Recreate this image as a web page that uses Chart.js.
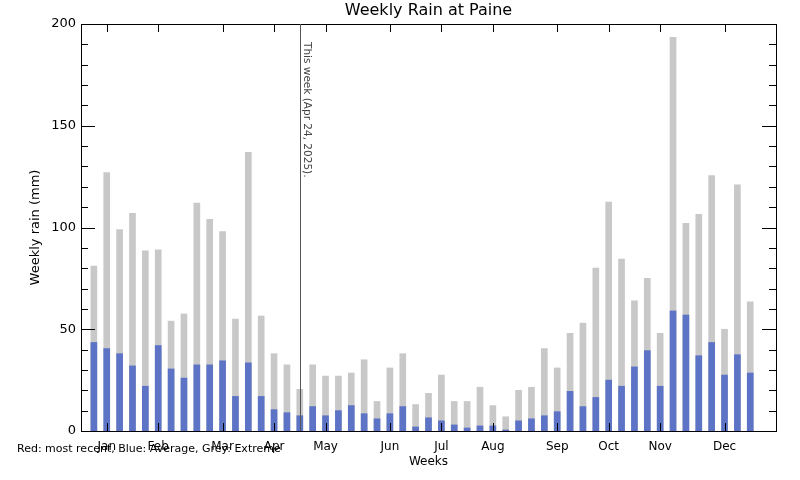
<!DOCTYPE html>
<html>
<head>
<meta charset="utf-8">
<script src="https://cdn.jsdelivr.net/npm/chart.js@4/dist/chart.umd.min.js"></script>
<style>
  html, body { margin: 0; padding: 0; background: #fff; }
  canvas { display: block; }
</style>
</head>
<body>
<canvas id="rain" width="800" height="480"></canvas>
<script>
// week numbers 1..52
const weeks = [
  1, 2, 3, 4, 5, 6, 7, 8, 9, 10, 11, 12, 13,
  14, 15, 16, 17, 18, 19, 20, 21, 22, 23, 24, 25, 26,
  27, 28, 29, 30, 31, 32, 33, 34, 35, 36, 37, 38, 39,
  40, 41, 42, 43, 44, 45, 46, 47, 48, 49, 50, 51, 52,
];

// grey bars: extreme weekly rain (mm)
const extreme = [
  81, 127, 99, 107, 88.5, 89, 54, 57.5, 112, 104, 98, 55, 137,
  56.5, 38, 32.5, 20.5, 32.5, 27, 27, 28.5, 35, 14.5, 31, 38, 13,
  18.5, 27.5, 14.5, 14.5, 21.5, 12.5, 7, 20, 21.5, 40.5, 31, 48, 53,
  80, 112.5, 84.5, 64, 75, 48, 193.5, 102, 106.5, 125.5, 50, 121, 63.5,
];

// blue bars: average weekly rain (mm)
const average = [
  43.5, 40.5, 38, 32, 22, 42, 30.5, 26, 32.5, 32.5, 34.5, 17, 33.5,
  17, 10.5, 9, 7.5, 12, 7.5, 10, 12.5, 8.5, 6, 8.5, 12, 2,
  6.5, 5, 3, 1.5, 2.5, 2.5, 0.5, 5, 6, 7.5, 9.5, 19.5, 12,
  16.5, 25, 22, 31.5, 39.5, 22, 59, 57, 37, 43.5, 27.5, 37.5, 28.5,
];

const monthWeeks = [2, 6, 11, 15, 19, 24, 28, 32, 37, 41, 45, 50];
const monthNames = ["Jan", "Feb", "Mar", "Apr", "May", "Jun", "Jul", "Aug", "Sep", "Oct", "Nov", "Dec"];
const thisWeek = 17;
const thisWeekLabel = "This week (Apr 24, 2025).";

const font = "'DejaVu Sans', sans-serif";

function seg(ctx, x1, y1, x2, y2) {
  ctx.beginPath();
  ctx.moveTo(x1, y1);
  ctx.lineTo(x2, y2);
  ctx.stroke();
}

const framePlugin = {
  id: "frame",
  afterDatasetsDraw(chart) {
    const { ctx, chartArea: a, scales } = chart;
    const x = scales.x, y = scales.y;
    ctx.save();
    ctx.strokeStyle = "#000";
    ctx.lineWidth = 1;
    ctx.strokeRect(Math.round(a.left) + 0.5, Math.round(a.top) + 0.5,
      Math.round(a.right - a.left), Math.round(a.bottom - a.top));

    // y ticks, inward on both sides
    for (let v = 0; v <= 200; v += 10) {
      const py = Math.round(y.getPixelForValue(v)) + 0.5;
      const len = v % 50 === 0 ? 14 : 7;
      seg(ctx, a.left, py, a.left + len, py);
      seg(ctx, a.right - len, py, a.right, py);
    }
    // month ticks top and bottom
    monthWeeks.forEach((w) => {
      const px = Math.round(x.getPixelForValue(w)) + 0.5;
      seg(ctx, px, a.top, px, a.top + 8);
      seg(ctx, px, a.bottom, px, a.bottom - 8);
    });

    // current week marker
    const lx = Math.round(x.getPixelForValue(thisWeek)) + 0.5;
    ctx.strokeStyle = "#555";
    seg(ctx, lx, a.top, lx, a.bottom);

    ctx.fillStyle = "#444";
    ctx.font = "10.5px " + font;
    ctx.translate(lx + 6, a.top + 18);
    ctx.rotate(Math.PI / 2);
    ctx.textAlign = "left";
    ctx.textBaseline = "middle";
    ctx.fillText(thisWeekLabel, 0, 0);
    ctx.restore();
  },
  afterDraw(chart) {
    const { ctx, chartArea: a } = chart;
    const cx = (a.left + a.right) / 2;
    ctx.save();
    ctx.fillStyle = "#000";
    ctx.textBaseline = "middle";

    ctx.font = "16px " + font;
    ctx.textAlign = "center";
    ctx.fillText("Weekly Rain at Paine", cx, 11);

    ctx.font = "12px " + font;
    ctx.fillText("Weeks", cx, 462);

    ctx.font = "11px " + font;
    ctx.textAlign = "left";
    ctx.fillText("Red: most recent, Blue: Average, Grey: Extreme", 17, 449);

    ctx.translate(36, (a.top + a.bottom) / 2);
    ctx.rotate(-Math.PI / 2);
    ctx.textAlign = "center";
    ctx.font = "13px " + font;
    ctx.fillText("Weekly rain (mm)", 0, 0);
    ctx.restore();
  },
};

new Chart(document.getElementById("rain").getContext("2d"), {
  type: "bar",
  data: {
    labels: weeks,
    datasets: [
      {
        label: "Average",
        data: weeks.map((w, i) => ({ x: w, y: average[i] })),
        backgroundColor: "rgb(92,115,198)",
        borderWidth: 0,
        barThickness: 6,
        grouped: false,
      },
      {
        label: "Extreme",
        data: weeks.map((w, i) => ({ x: w, y: extreme[i] })),
        backgroundColor: "rgb(200,200,200)",
        borderWidth: 0,
        barThickness: 6,
        grouped: false,
      },
    ],
  },
  options: {
    responsive: false,
    animation: false,
    events: [],
    layout: { padding: { top: 24, right: 24, left: 0, bottom: 0 } },
    plugins: {
      legend: { display: false },
      tooltip: { enabled: false },
      title: { display: false },
    },
    scales: {
      x: {
        type: "linear",
        min: 0,
        max: 54,
        offset: false,
        grid: { display: false, drawTicks: false },
        border: { display: false },
        afterBuildTicks: (scale) => {
          scale.ticks = monthWeeks.map((w) => ({ value: w }));
        },
        afterFit: (scale) => { scale.height = 49; },
        ticks: {
          autoSkip: false,
          maxRotation: 0,
          padding: 9,
          color: "#000",
          font: { family: font, size: 12 },
          callback: (v) => monthNames[monthWeeks.indexOf(v)],
        },
      },
      y: {
        min: 0,
        max: 200,
        grid: { display: false, drawTicks: false },
        border: { display: false },
        afterFit: (scale) => { scale.width = 81; },
        ticks: {
          stepSize: 50,
          padding: 5,
          color: "#000",
          font: { family: font, size: 13 },
        },
      },
    },
  },
  plugins: [framePlugin],
});
</script>
</body>
</html>
